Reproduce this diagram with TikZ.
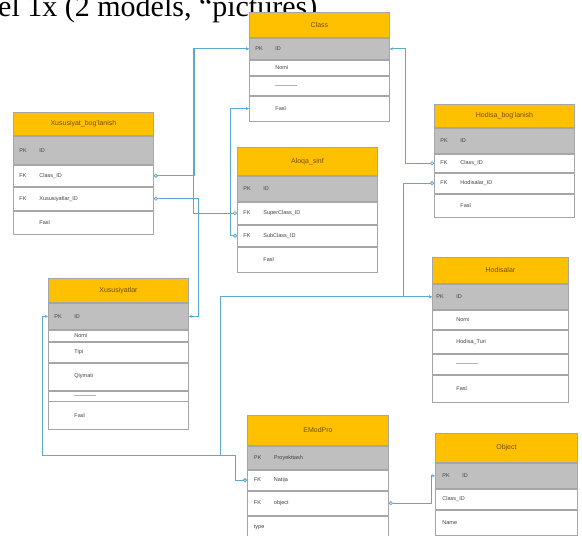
\documentclass[tikz,border=0pt]{standalone}
\usepackage{fontspec}
\setmainfont{Liberation Serif}
\setsansfont{Liberation Sans}
\usetikzlibrary{arrows.meta,positioning}
\definecolor{hdr}{HTML}{FFC000}
\definecolor{pkrow}{HTML}{BFBFBF}
\definecolor{edge}{HTML}{A6A6A6}
\definecolor{link}{HTML}{5BA8D0}
\definecolor{hdrtext}{HTML}{6F4F00}
\tikzset{
    tbl/.style={draw=edge, line width=0.9pt, fill=white, minimum width=140pt, inner sep=0pt,
        text width=128pt, align=left, text=black!75, font=\sffamily\fontsize{5.5}{6}\selectfont},
    hdrbox/.style={tbl, fill=hdr, align=center, text=hdrtext, font=\sffamily\fontsize{7}{8}\selectfont},
    pkbox/.style={tbl, fill=pkrow},
    rel/.style={draw=link, line width=0.8pt, {Circle[open,length=4pt,width=4pt]}-{Stealth[length=3pt,width=3pt]}}
}
\newcommand{\fld}[2]{\makebox[20pt][l]{#1}#2}
\newcommand{\dashrow}{\fld{}{\textcolor{gray!60}{\rule[1pt]{22pt}{0.4pt}}}}

\begin{document}
\begin{tikzpicture}[x=1pt, y=-1pt]
        \useasboundingbox (0,0) rectangle (582,536);
        \node[anchor=base west, inner sep=0pt, font=\fontsize{30}{30}\selectfont] (caption) at (-2,16) {el 1x (2 models, “pictures).};

        % Class
        \node[hdrbox, minimum height=25pt, anchor=north west] (cls-h) at (249,12) {Class};
        \node[pkbox, minimum height=21pt, below=0pt of cls-h] (cls-id) {\fld{PK}{ID}};
        \node[tbl, minimum height=15pt, below=0pt of cls-id] (cls-nomi) {\fld{}{Nomi}};
        \node[tbl, minimum height=19pt, below=0pt of cls-nomi] (cls-dash) {\dashrow};
        \node[tbl, minimum height=25pt, below=0pt of cls-dash] (cls-fasl) {\fld{}{Fasl}};

        % Xususiyat_bog'lanish
        \node[hdrbox, minimum height=23pt, anchor=north west] (xb-h) at (13,112) {Xususiyat\_bog'lanish};
        \node[pkbox, minimum height=28pt, below=0pt of xb-h] (xb-id) {\fld{PK}{ID}};
        \node[tbl, minimum height=21pt, below=0pt of xb-id] (xb-cid) {\fld{FK}{Class\_ID}};
        \node[tbl, minimum height=23pt, below=0pt of xb-cid] (xb-xid) {\fld{FK}{Xususiyatlar\_ID}};
        \node[tbl, minimum height=23pt, below=0pt of xb-xid] (xb-fasl) {\fld{}{Fasl}};

        % Aloqa_sinf
        \node[hdrbox, minimum height=28pt, anchor=north west] (al-h) at (237,147) {Aloqa\_sinf};
        \node[pkbox, minimum height=25pt, below=0pt of al-h] (al-id) {\fld{PK}{ID}};
        \node[tbl, minimum height=22pt, below=0pt of al-id] (al-sup) {\fld{FK}{SuperClass\_ID}};
        \node[tbl, minimum height=21pt, below=0pt of al-sup] (al-sub) {\fld{FK}{SubClass\_ID}};
        \node[tbl, minimum height=25pt, below=0pt of al-sub] (al-fasl) {\fld{}{Fasl}};

        % Hodisa_bog'lanish
        \node[hdrbox, minimum height=23pt, anchor=north west] (hb-h) at (434,104) {Hodisa\_bog'lanish};
        \node[pkbox, minimum height=25pt, below=0pt of hb-h] (hb-id) {\fld{PK}{ID}};
        \node[tbl, minimum height=18pt, below=0pt of hb-id] (hb-cid) {\fld{FK}{Class\_ID}};
        \node[tbl, minimum height=20pt, below=0pt of hb-cid] (hb-hid) {\fld{FK}{Hodisalar\_ID}};
        \node[tbl, minimum height=23pt, below=0pt of hb-hid] (hb-fasl) {\fld{}{Fasl}};

        % Xususiyatlar
        \node[hdrbox, minimum height=24pt, anchor=north west] (xs-h) at (48,278) {Xususiyatlar};
        \node[pkbox, minimum height=26pt, below=0pt of xs-h] (xs-id) {\fld{PK}{ID}};
        \node[tbl, minimum height=11pt, below=0pt of xs-id] (xs-nomi) {\fld{}{Nomi}};
        \node[tbl, minimum height=20pt, below=0pt of xs-nomi] (xs-tipi) {\fld{}{Tipi}};
        \node[tbl, minimum height=27pt, below=0pt of xs-tipi] (xs-qiy) {\fld{}{Qiymati}};
        \node[tbl, minimum height=10pt, below=0pt of xs-qiy] (xs-dash) {\dashrow};
        \node[tbl, minimum height=28pt, below=0pt of xs-dash] (xs-fasl) {\fld{}{Fasl}};

        % Hodisalar
        \node[hdrbox, minimum width=136pt, minimum height=26pt, anchor=north west] (hd-h) at (432,257) {Hodisalar};
        \node[pkbox, minimum width=136pt, minimum height=25pt, below=0pt of hd-h] (hd-id) {\fld{PK}{ID}};
        \node[tbl, minimum width=136pt, minimum height=19pt, below=0pt of hd-id] (hd-nomi) {\fld{}{Nomi}};
        \node[tbl, minimum width=136pt, minimum height=23pt, below=0pt of hd-nomi] (hd-turi) {\fld{}{Hodisa\_Turi}};
        \node[tbl, minimum width=136pt, minimum height=20pt, below=0pt of hd-turi] (hd-dash) {\dashrow};
        \node[tbl, minimum width=136pt, minimum height=27pt, below=0pt of hd-dash] (hd-fasl) {\fld{}{Fasl}};

        % EModPro
        \node[hdrbox, minimum width=141pt, minimum height=30pt, anchor=north west] (ep-h) at (247,415) {EModPro};
        \node[pkbox, minimum width=141pt, minimum height=23pt, below=0pt of ep-h] (ep-id) {\fld{PK}{Proyekttash}};
        \node[tbl, minimum width=141pt, minimum height=20pt, below=0pt of ep-id] (ep-nat) {\fld{FK}{Natija}};
        \node[tbl, minimum width=141pt, minimum height=24pt, below=0pt of ep-nat] (ep-obj) {\fld{FK}{object}};
        \node[tbl, minimum width=141pt, minimum height=23pt, below=0pt of ep-obj] (ep-type) {type};

        % Object
        \node[hdrbox, minimum width=142pt, minimum height=29pt, anchor=north west] (obj-h) at (435,433) {Object};
        \node[pkbox, minimum width=142pt, minimum height=25pt, below=0pt of obj-h] (obj-id) {\fld{PK}{ID}};
        \node[tbl, minimum width=142pt, minimum height=20pt, below=0pt of obj-id] (obj-cid) {Class\_ID};
        \node[tbl, minimum width=142pt, minimum height=25pt, below=0pt of obj-cid] (obj-name) {Name};

        % links
        \coordinate (bend) at (42,455);
        \coordinate (junc) at (220,455);
        \draw[rel] (xb-cid.east) -- ++(40,0) |- (cls-id.west);
        \draw[rel] (al-sup.west) -- ++(-44,0) |- (cls-id.west);
        \draw[rel] (al-sub.west) -- ++(-7,0) |- (cls-fasl.west);
        \draw[rel] (xb-xid.east) -- ++(44,0) |- (xs-id.east);
        \draw[rel] (hb-cid.west) -- ++(-29,0) |- (cls-id.east);
        \draw[rel] (hb-hid.west) -- ++(-31,0) |- (hd-id.west);
        \draw[rel] (ep-nat.west) -- ++(-12,0) |- (bend) |- (xs-id.west);
        \draw[rel] (ep-nat.west) -- ++(-12,0) |- (junc) |- (hd-id.west);
        \draw[rel] (ep-obj.east) -- ++(42,0) |- (obj-id.west);
    \end{tikzpicture}
\end{document}
